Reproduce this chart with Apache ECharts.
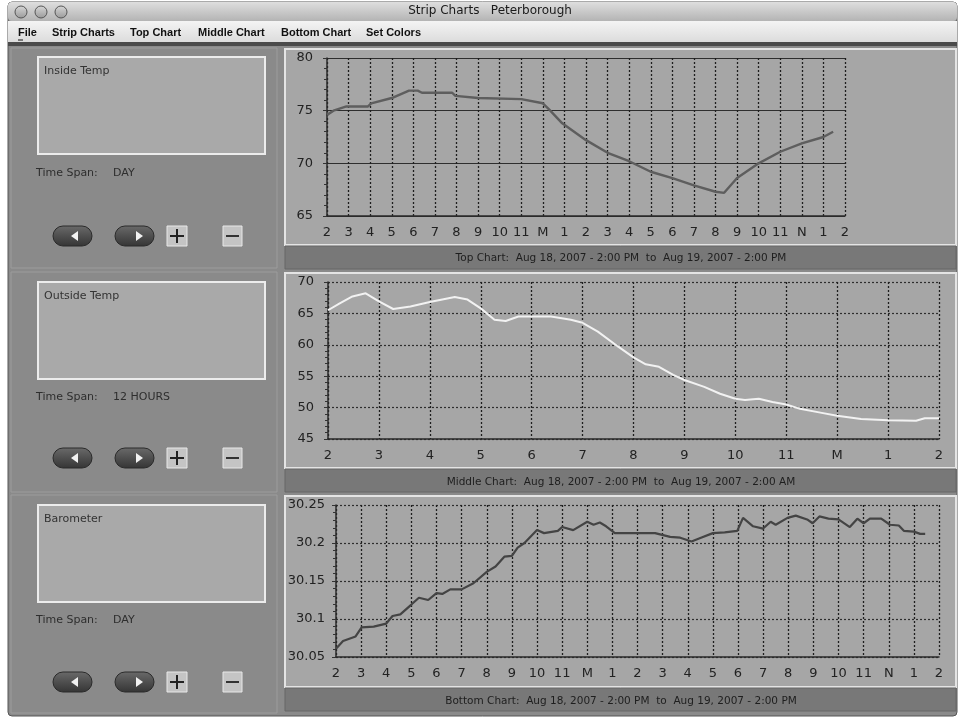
<!DOCTYPE html>
<html>
<head>
<meta charset="utf-8">
<title>Strip Charts</title>
<script src="https://cdn.jsdelivr.net/npm/echarts@6/dist/echarts.min.js"></script>
<style>
  html, body { margin: 0; padding: 0; background: #ffffff; }
  #chart { width: 962px; height: 718px; }
</style>
</head>
<body>
<div id="chart"></div>
<script>
// tick labels (hours from 2 PM)
const dayTickLabels = ['2', '3', '4', '5', '6', '7', '8', '9', '10', '11', 'M', '1', '2', '3', '4', '5', '6', '7', '8', '9', '10', '11', 'N', '1', '2']
const halfDayTickLabels = ['2', '3', '4', '5', '6', '7', '8', '9', '10', '11', 'M', '1', '2']

// Inside Temp, hours after 2 PM Aug 18
const insideHours = [0, 0.3, 0.9, 1.9, 2.05, 3, 3.8, 4.2, 4.4, 5.8, 5.95, 7, 9, 10, 10.3, 10.9, 12, 13, 14, 15, 16, 17, 18, 18.4, 19, 20, 21, 22, 23, 23.45]
const insideTemps = [74.6, 75.0, 75.4, 75.4, 75.7, 76.2, 76.9, 76.9, 76.7, 76.7, 76.4, 76.2, 76.1, 75.7, 75.1, 73.8, 72.2, 71.0, 70.2, 69.2, 68.6, 67.9, 67.3, 67.2, 68.6, 70.0, 71.1, 71.9, 72.5, 73.0]

// Outside Temp, hours after 2 PM
const outsideHours = [0, 0.23, 0.48, 0.74, 1.0, 1.28, 1.62, 2.0, 2.49, 2.74, 3.0, 3.27, 3.49, 3.74, 4.0, 4.38, 4.77, 5.0, 5.3, 5.7, 6.0, 6.24, 6.5, 6.78, 7.0, 7.39, 7.7, 8.0, 8.19, 8.46, 8.73, 9.0, 9.27, 9.67, 10.0, 10.47, 11.0, 11.55, 11.72, 12.0]
const outsideTemps = [65.5, 66.6, 67.7, 68.2, 66.9, 65.7, 66.1, 66.8, 67.6, 67.2, 65.8, 64.0, 63.8, 64.5, 64.5, 64.5, 64.0, 63.5, 62.1, 59.7, 58.0, 56.9, 56.5, 55.2, 54.4, 53.3, 52.2, 51.4, 51.2, 51.4, 50.9, 50.5, 49.8, 49.2, 48.7, 48.2, 48.0, 47.9, 48.3, 48.3]

// Barometer, hours after 2 PM
const baroHours = [0, 0.28, 0.78, 1.02, 1.5, 2, 2.25, 2.56, 3, 3.3, 3.67, 4, 4.23, 4.55, 5, 5.47, 6, 6.35, 6.7, 7, 7.23, 7.5, 8, 8.28, 8.83, 9, 9.44, 10, 10.25, 10.5, 10.75, 11.1, 12.05, 12.7, 13.3, 13.7, 14.15, 14.45, 15, 15.47, 15.97, 16.2, 16.6, 17, 17.3, 17.5, 17.97, 18.3, 18.75, 18.97, 19.24, 19.6, 20, 20.45, 20.75, 21, 21.25, 21.7, 22.05, 22.4, 22.6, 23, 23.25, 23.45]
const baroValues = [30.061, 30.071, 30.077, 30.089, 30.090, 30.094, 30.104, 30.106, 30.119, 30.128, 30.125, 30.134, 30.133, 30.139, 30.139, 30.147, 30.162, 30.169, 30.182, 30.183, 30.194, 30.200, 30.217, 30.213, 30.216, 30.221, 30.217, 30.228, 30.224, 30.227, 30.222, 30.213, 30.213, 30.213, 30.208, 30.207, 30.202, 30.206, 30.213, 30.214, 30.216, 30.233, 30.222, 30.219, 30.228, 30.224, 30.233, 30.236, 30.231, 30.226, 30.235, 30.232, 30.231, 30.221, 30.232, 30.226, 30.232, 30.232, 30.224, 30.223, 30.216, 30.215, 30.212, 30.212]

const panelNames = ['Inside Temp', 'Outside Temp', 'Barometer']
const timeSpans = ['DAY', '12 HOURS', 'DAY']
const captions = [
  'Top Chart:  Aug 18, 2007 - 2:00 PM  to  Aug 19, 2007 - 2:00 PM',
  'Middle Chart:  Aug 18, 2007 - 2:00 PM  to  Aug 19, 2007 - 2:00 AM',
  'Bottom Chart:  Aug 18, 2007 - 2:00 PM  to  Aug 19, 2007 - 2:00 PM'
]
const menuItems = ['File', 'Strip Charts', 'Top Chart', 'Middle Chart', 'Bottom Chart', 'Set Colors']

const FONT = '"DejaVu Sans", "Liberation Sans", sans-serif'
const menuX = [18, 52, 130, 198, 281, 366]

// layout of the three rows
const sectionTop = [48, 272, 495]
const boxTop = [57, 282, 505]
const spanY = [173, 397, 620]
const buttonY = [236, 458, 682]
const panelTop = [49, 273, 496]
const panelBottom = [245, 468, 687]
const captionY = [258, 482, 701]

function pair(xs, ys) {
  return xs.map((x, i) => [x, ys[i]])
}

function vGrad(c1, c2) {
  return new echarts.graphic.LinearGradient(0, 0, 0, 1, [
    { offset: 0, color: c1 },
    { offset: 1, color: c2 }
  ])
}

function text(x, y, str, opts) {
  return {
    type: 'text',
    z: 5,
    style: Object.assign({
      x, y, text: str,
      fill: '#2a2a2a',
      fontSize: 11,
      fontFamily: FONT,
      align: 'left',
      verticalAlign: 'middle',
      textAlign: 'left',
      textVerticalAlign: 'middle'
    }, opts || {})
  }
}

function rect(x, y, w, h, style, r) {
  return {
    type: 'rect',
    z: -10,
    shape: { x, y, width: w, height: h, r: r || 0 },
    style
  }
}

function buildChrome() {
  const els = []
  // window
  els.push(rect(8, 2, 949, 714, { fill: '#8a8a8a', stroke: '#555', lineWidth: 1 }, 4))
  els.push(rect(8, 2, 949, 19, { fill: vGrad('#dedede', '#b4b4b4') }, 4))
  els.push(text(490, 11, 'Strip Charts   Peterborough', { fontSize: 12, align: 'center', textAlign: 'center', fill: '#1a1a1a' }))
  ;[21, 41, 61].forEach(cx => {
    els.push({ type: 'circle', z: 2, shape: { cx, cy: 12, r: 6 }, style: { fill: vGrad('#d8d8d8', '#999'), stroke: '#555', lineWidth: 1 } })
  })
  els.push(rect(8, 21, 949, 21, { fill: vGrad('#f4f4f4', '#dcdcdc') }))
  els.push(rect(8, 42, 949, 4, { fill: '#4a4a4a' }))
  menuItems.forEach((m, i) => {
    els.push(text(menuX[i], 33, m, { fontSize: 11, fontWeight: 'bold', fontFamily: '"Liberation Sans", sans-serif', fill: '#111' }))
  })
  els.push({ type: 'line', z: 5, shape: { x1: 18, y1: 40, x2: 23, y2: 40 }, style: { stroke: '#111', lineWidth: 1 } })

  for (let i = 0; i < 3; i++) {
    // left control section
    els.push(rect(11, sectionTop[i], 266, i === 2 ? 218 : 220, { fill: 'transparent', stroke: '#9c9c9c', lineWidth: 1 }))
    els.push(rect(38, boxTop[i], 227, 97, { fill: '#a9a9a9', stroke: '#ececec', lineWidth: 2 }))
    els.push(text(44, boxTop[i] + 14, panelNames[i], { fill: '#333' }))
    els.push(text(36, spanY[i], 'Time Span:', { fill: '#2e2e2e' }))
    els.push(text(113, spanY[i], timeSpans[i], { fill: '#2e2e2e' }))
    const by = buttonY[i]
    els.push(rect(53, by - 10, 39, 20, { fill: vGrad('#6a6a6a', '#343434'), stroke: '#2a2a2a', lineWidth: 1 }, 10))
    els.push(rect(115, by - 10, 39, 20, { fill: vGrad('#6a6a6a', '#343434'), stroke: '#2a2a2a', lineWidth: 1 }, 10))
    els.push({ type: 'polygon', z: 3, shape: { points: [[71, by], [78, by - 5], [78, by + 5]] }, style: { fill: '#f2f2f2' } })
    els.push({ type: 'polygon', z: 3, shape: { points: [[143, by], [136, by - 5], [136, by + 5]] }, style: { fill: '#f2f2f2' } })
    els.push(rect(167, by - 10, 20, 20, { fill: '#c4c4c4', stroke: '#e8e8e8', lineWidth: 1 }))
    els.push(rect(223, by - 10, 19, 20, { fill: '#c4c4c4', stroke: '#e8e8e8', lineWidth: 1 }))
    els.push({ type: 'line', z: 3, shape: { x1: 170, y1: by, x2: 184, y2: by }, style: { stroke: '#222', lineWidth: 2 } })
    els.push({ type: 'line', z: 3, shape: { x1: 177, y1: by - 7, x2: 177, y2: by + 7 }, style: { stroke: '#222', lineWidth: 2 } })
    els.push({ type: 'line', z: 3, shape: { x1: 226, y1: by, x2: 239, y2: by }, style: { stroke: '#333', lineWidth: 2 } })

    // chart panel + caption bar
    els.push(rect(285, panelTop[i], 671, panelBottom[i] - panelTop[i], { fill: '#a6a6a6', stroke: '#e4e4e4', lineWidth: 2 }))
    els.push(rect(285, panelBottom[i] + 1, 671, 23, { fill: '#787878', stroke: '#666', lineWidth: 1 }))
    els.push(text(621, captionY[i], captions[i], { fontSize: 10.5, align: 'center', textAlign: 'center', fill: '#1e1e1e' }))
  }
  return els
}

function xAxisFor(gridIndex, max, labels) {
  return {
    type: 'value',
    gridIndex,
    min: 0,
    max,
    interval: 1,
    axisLine: { show: true, onZero: false, lineStyle: { color: '#2a2a2a', width: 1.5 } },
    axisTick: { show: false },
    axisLabel: {
      color: '#222',
      fontSize: 13,
      fontFamily: FONT,
      margin: 10,
      showMinLabel: true,
      showMaxLabel: true,
      formatter: v => labels[Math.round(v)] || ''
    },
    splitLine: { show: true, lineStyle: { color: '#1e1e1e', width: 1.3, type: [2, 2] } }
  }
}

function yAxisFor(gridIndex, min, max, interval, margin, splitType, fmt) {
  return {
    type: 'value',
    gridIndex,
    min,
    max,
    interval,
    axisLine: { show: true, lineStyle: { color: '#2a2a2a', width: 1.5 } },
    axisTick: { show: true, length: 4, lineStyle: { color: '#333' } },
    minorTick: { show: true, splitNumber: 5, length: 3, lineStyle: { color: '#333' } },
    axisLabel: { color: '#222', fontSize: 13, fontFamily: FONT, margin, formatter: fmt },
    splitLine: { show: true, lineStyle: { color: '#2e2e2e', width: 1.2, type: splitType } }
  }
}

const chart = echarts.init(document.getElementById('chart'), null, { renderer: 'canvas' })

const option = {
  backgroundColor: '#ffffff',
  animation: false,
  graphic: { elements: buildChrome() },
  grid: [
    { left: 327, top: 58, width: 518, height: 158 },
    { left: 328, top: 282, width: 611, height: 157 },
    { left: 336, top: 505, width: 603, height: 152 }
  ],
  xAxis: [
    xAxisFor(0, 24, dayTickLabels),
    xAxisFor(1, 12, halfDayTickLabels),
    xAxisFor(2, 24, dayTickLabels)
  ],
  yAxis: [
    yAxisFor(0, 65, 80, 5, 14, 'solid', v => String(v)),
    yAxisFor(1, 45, 70, 5, 14, [2, 2], v => String(v)),
    yAxisFor(2, 30.05, 30.25, 0.05, 11, [2, 2], v => String(parseFloat(v.toFixed(2))))
  ],
  series: [
    {
      name: 'Inside Temp',
      type: 'line',
      xAxisIndex: 0,
      yAxisIndex: 0,
      data: pair(insideHours, insideTemps),
      symbol: 'none',
      lineStyle: { color: '#5e5e5e', width: 2.4 },
      z: 10
    },
    {
      name: 'Outside Temp',
      type: 'line',
      xAxisIndex: 1,
      yAxisIndex: 1,
      data: pair(outsideHours, outsideTemps),
      symbol: 'none',
      lineStyle: { color: '#f2f2f2', width: 2 },
      z: 10
    },
    {
      name: 'Barometer',
      type: 'line',
      xAxisIndex: 2,
      yAxisIndex: 2,
      data: pair(baroHours, baroValues),
      symbol: 'none',
      lineStyle: { color: '#444', width: 2.2 },
      z: 10
    }
  ]
}

chart.setOption(option)
</script>
</body>
</html>
